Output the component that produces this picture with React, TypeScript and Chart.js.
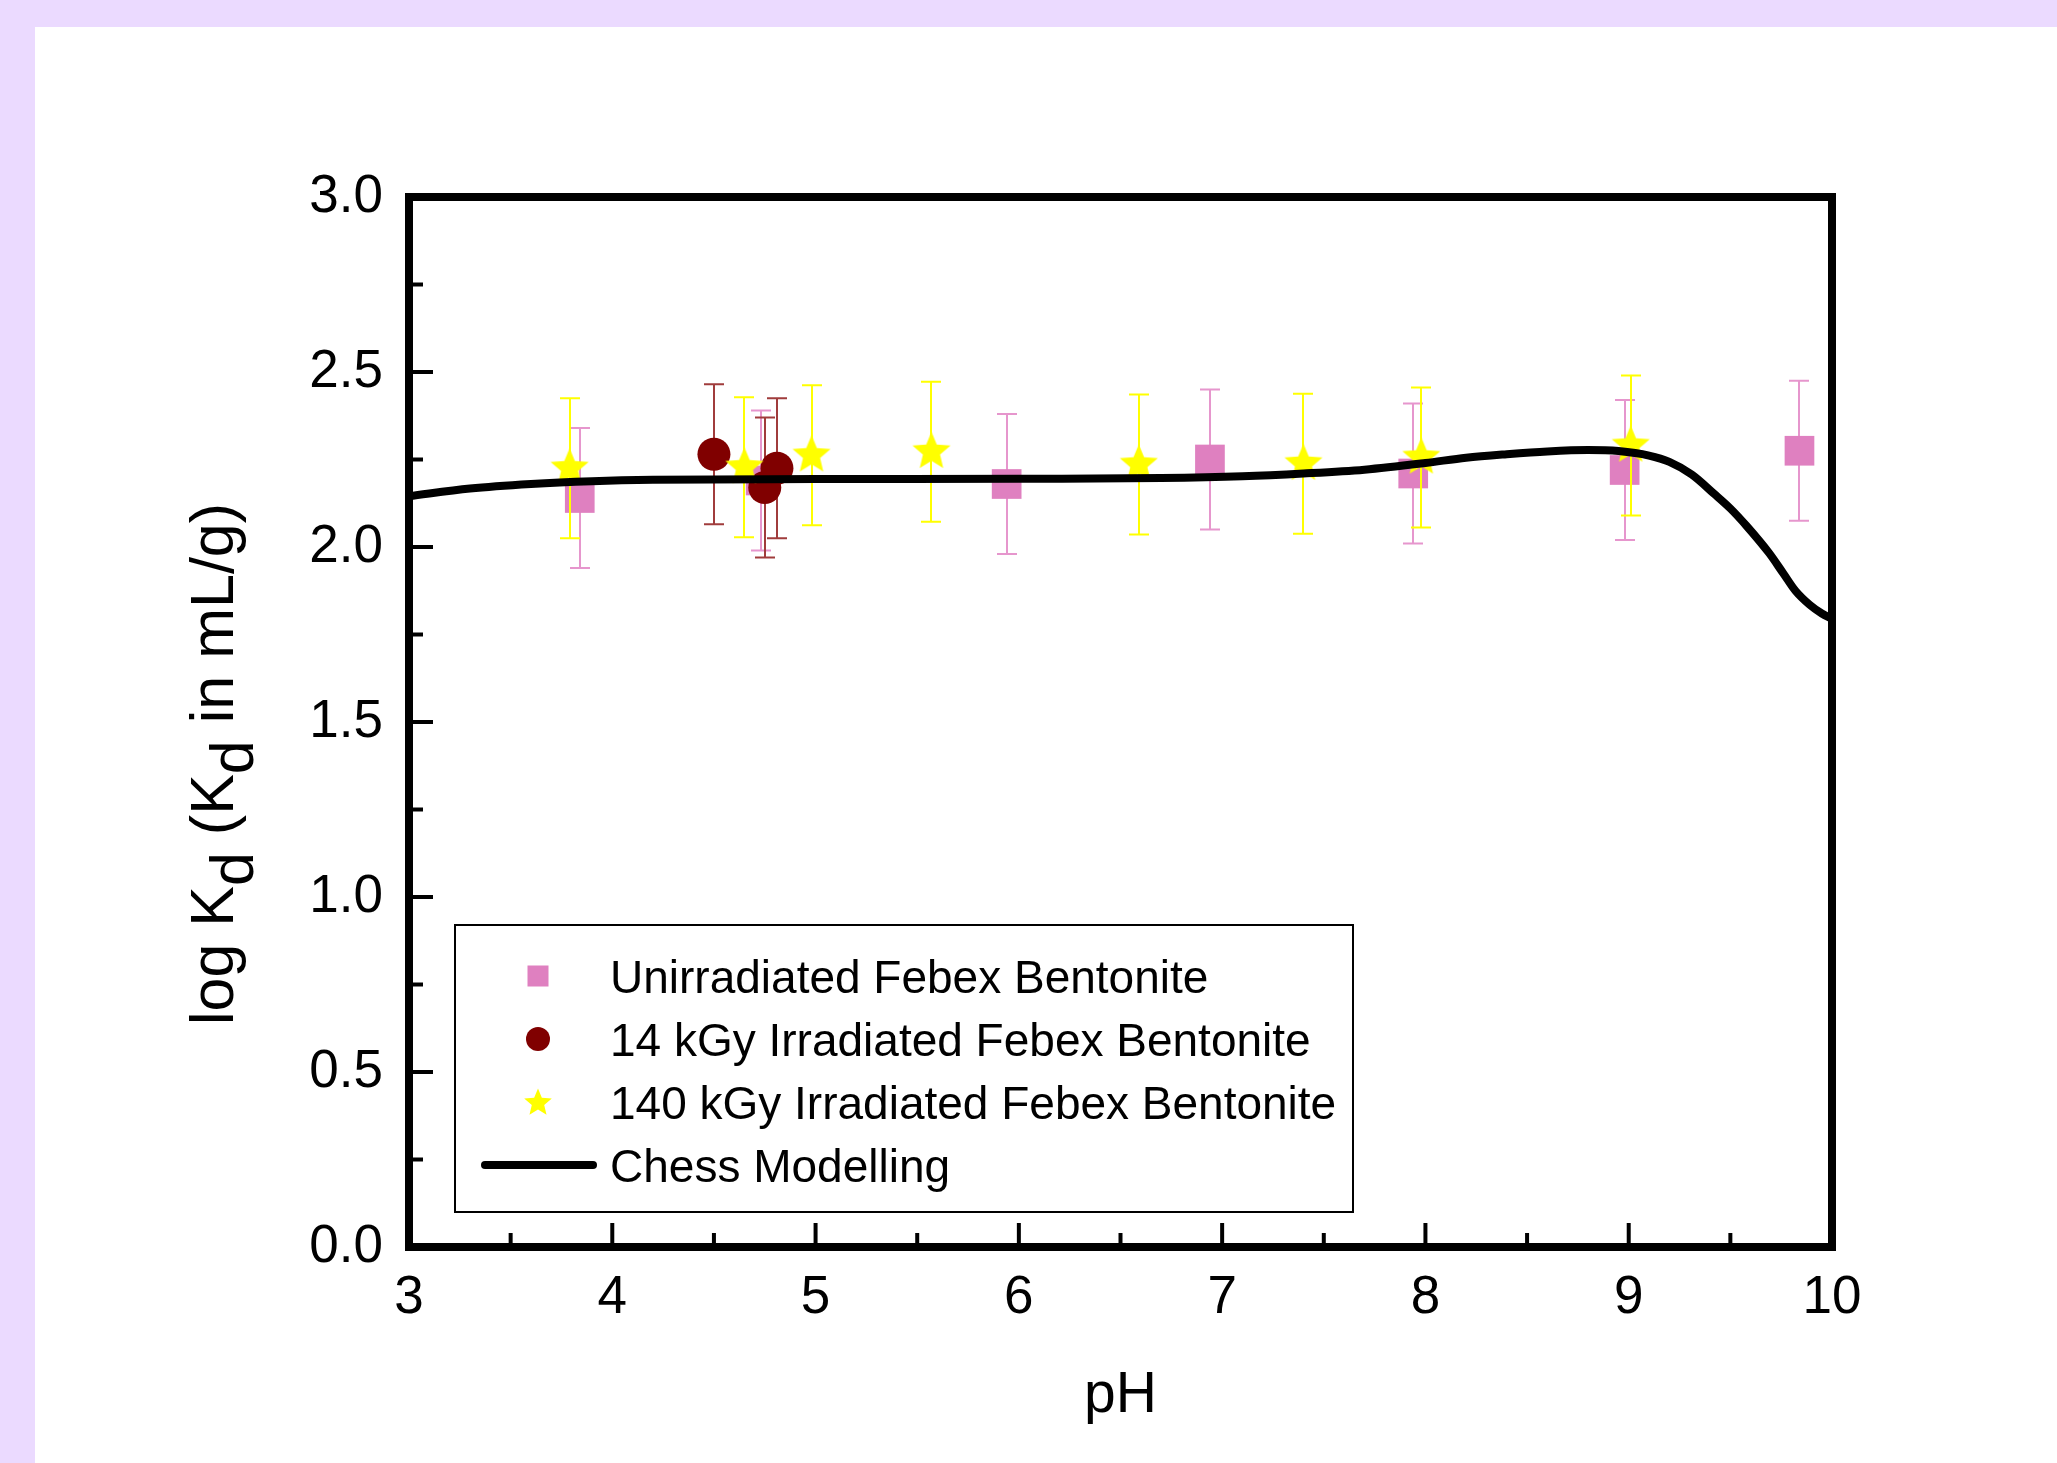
import React, { useEffect, useRef } from "react";
import { Chart, registerables } from "chart.js";

Chart.register(...registerables);

const W = 2057;
const H = 1463;
const FONT = '"Liberation Sans", Arial, Helvetica, sans-serif';

// ---- tick labels ----
const xTickValues = [3, 4, 5, 6, 7, 8, 9, 10];
const yTickValues = [0, 0.5, 1.0, 1.5, 2.0, 2.5, 3.0];
const xMinorValues = [3.5, 4.5, 5.5, 6.5, 7.5, 8.5, 9.5];
const yMinorValues = [0.25, 0.75, 1.25, 1.75, 2.25, 2.75];

const xTitle = "pH";
// y title segments: [text, isSubscript]
const yTitleParts: [string, boolean][] = [
  ["log K", false],
  ["d", true],
  [" (K", false],
  ["d", true],
  [" in mL/g)", false],
];

const seriesNames = [
  "Unirradiated Febex Bentonite",
  "14 kGy Irradiated Febex Bentonite",
  "140 kGy Irradiated Febex Bentonite",
  "Chess Modelling",
];

// ---- data ----
const unirrPH = [3.84, 4.73, 5.94, 6.94, 7.94, 8.98, 9.84];
const unirrLogKd = [2.14, 2.19, 2.18, 2.25, 2.21, 2.22, 2.275];
const unirrErr = [0.2, 0.2, 0.2, 0.2, 0.2, 0.2, 0.2];

const irr14PH = [4.5, 4.75, 4.81];
const irr14LogKd = [2.265, 2.17, 2.225];
const irr14Err = [0.2, 0.2, 0.2];

const irr140PH = [3.79, 4.65, 4.98, 5.57, 6.59, 7.4, 7.98, 9.01];
const irr140LogKd = [2.225, 2.228, 2.262, 2.272, 2.236, 2.238, 2.256, 2.29];
const irr140Err = [0.2, 0.2, 0.2, 0.2, 0.2, 0.2, 0.2, 0.2];

const chessPH = [3.0, 3.3, 3.6, 3.9, 4.2, 5.0, 6.0, 6.7, 7.1, 7.4, 7.7, 8.0, 8.2, 8.4, 8.6, 8.8, 8.95, 9.1, 9.2, 9.31, 9.42, 9.5, 9.58, 9.69, 9.76, 9.82, 9.89, 9.95, 10.0];
const chessLogKd = [2.145, 2.167, 2.18, 2.188, 2.192, 2.194, 2.195, 2.197, 2.202, 2.21, 2.221, 2.24, 2.255, 2.265, 2.273, 2.277, 2.274, 2.261, 2.243, 2.207, 2.152, 2.11, 2.06, 1.983, 1.925, 1.875, 1.835, 1.81, 1.795];

const PINK = "rgb(223,128,192)";
const PINK_ERR = "rgb(230,150,205)";
const DARKRED = "#800000";
const DARKRED_ERR = "rgb(160,60,60)";
const YELLOW = "#FFFF00";

function starPath(ctx: CanvasRenderingContext2D, cx: number, cy: number, R: number) {
  const r = R * 0.45;
  ctx.beginPath();
  for (let i = 0; i < 10; i++) {
    const rad = i % 2 === 0 ? R : r;
    const a = -Math.PI / 2 + (i * Math.PI) / 5;
    const px = cx + rad * Math.cos(a);
    const py = cy + rad * Math.sin(a);
    if (i === 0) ctx.moveTo(px, py);
    else ctx.lineTo(px, py);
  }
  ctx.closePath();
}

function makeStar(R: number): HTMLCanvasElement {
  const c = document.createElement("canvas");
  const s = Math.ceil(2 * R + 4);
  c.width = s;
  c.height = s;
  const ctx = c.getContext("2d")!;
  ctx.fillStyle = YELLOW;
  starPath(ctx, s / 2, s / 2, R);
  ctx.fill();
  return c;
}

const toPts = (xs: number[], ys: number[]) => xs.map((x, i) => ({ x, y: ys[i] }));

const decorPlugin = {
  id: "decor",
  beforeDatasetDraw(chart: any, args: any) {
    const ds = chart.data.datasets[args.index];
    if (!ds.errors) return;
    const { ctx, scales } = chart;
    const x = scales.x;
    const y = scales.y;
    ctx.save();
    ctx.strokeStyle = ds.errColor;
    ctx.lineWidth = 2;
    ds.data.forEach((p: any, i: number) => {
      const px = Math.round(x.getPixelForValue(p.x));
      const yt = y.getPixelForValue(p.y + ds.errors[i]);
      const yb = y.getPixelForValue(p.y - ds.errors[i]);
      ctx.beginPath();
      ctx.moveTo(px, yt);
      ctx.lineTo(px, yb);
      ctx.moveTo(px - 10, yt);
      ctx.lineTo(px + 10, yt);
      ctx.moveTo(px - 10, yb);
      ctx.lineTo(px + 10, yb);
      ctx.stroke();
    });
    ctx.restore();
  },
  afterDraw(chart: any) {
    const { ctx, chartArea: ca, scales } = chart;
    const x = scales.x;
    const y = scales.y;
    ctx.save();
    // inward ticks
    ctx.strokeStyle = "#000";
    ctx.lineWidth = 4;
    ctx.lineCap = "butt";
    const tick = (vals: number[], len: number) => {
      vals.forEach((v) => {
        const px = x.getPixelForValue(v);
        ctx.beginPath();
        ctx.moveTo(px, ca.bottom);
        ctx.lineTo(px, ca.bottom - len);
        ctx.stroke();
      });
    };
    const ytick = (vals: number[], len: number) => {
      vals.forEach((v) => {
        const py = y.getPixelForValue(v);
        ctx.beginPath();
        ctx.moveTo(ca.left, py);
        ctx.lineTo(ca.left + len, py);
        ctx.stroke();
      });
    };
    tick(xTickValues.slice(1, -1), 24);
    tick(xMinorValues, 14);
    ytick(yTickValues.slice(1, -1), 24);
    ytick(yMinorValues, 14);

    // frame
    ctx.lineWidth = 8;
    ctx.lineJoin = "miter";
    ctx.strokeRect(ca.left, ca.top, ca.right - ca.left, ca.bottom - ca.top);

    // axis titles
    ctx.fillStyle = "#000";
    ctx.font = `57px ${FONT}`;
    ctx.textAlign = "center";
    ctx.textBaseline = "alphabetic";
    ctx.fillText(xTitle, (ca.left + ca.right) / 2, 1412);

    ctx.save();
    ctx.font = `61px ${FONT}`;
    ctx.translate(233, 764);
    ctx.rotate(-Math.PI / 2);
    ctx.textAlign = "left";
    const widths = yTitleParts.map(([t]) => ctx.measureText(t).width);
    const total = widths.reduce((a, b) => a + b, 0);
    let cx = -total / 2;
    yTitleParts.forEach(([t, sub], i) => {
      ctx.fillText(t, cx, sub ? 20 : 0);
      cx += widths[i];
    });
    ctx.restore();

    // legend
    const lx = 455, ly = 925, lw = 898, lh = 287;
    ctx.lineWidth = 2;
    ctx.strokeStyle = "#000";
    ctx.strokeRect(lx, ly, lw, lh);
    ctx.font = `46px ${FONT}`;
    ctx.textAlign = "left";
    ctx.textBaseline = "alphabetic";
    const rowBase = [993, 1056, 1119, 1182];
    const rowMid = [976, 1039, 1102, 1165];
    const symX = 538;
    seriesNames.forEach((name, i) => {
      ctx.fillStyle = "#000";
      ctx.fillText(name, 610, rowBase[i]);
    });
    ctx.fillStyle = PINK;
    ctx.fillRect(symX - 10.5, rowMid[0] - 10.5, 21, 21);
    ctx.fillStyle = DARKRED;
    ctx.beginPath();
    ctx.arc(symX, rowMid[1], 12, 0, Math.PI * 2);
    ctx.fill();
    ctx.fillStyle = YELLOW;
    starPath(ctx, symX, rowMid[2] + 1, 14.5);
    ctx.fill();
    ctx.strokeStyle = "#000";
    ctx.lineWidth = 8;
    ctx.lineCap = "round";
    ctx.beginPath();
    ctx.moveTo(485, rowMid[3]);
    ctx.lineTo(593, rowMid[3]);
    ctx.stroke();
    ctx.restore();
  },
};

export default function App() {
  const ref = useRef<HTMLCanvasElement | null>(null);

  useEffect(() => {
    if (!ref.current) return;
    const starImg = makeStar(20);
    const chart = new Chart(ref.current, {
      type: "scatter",
      data: {
        datasets: [
          {
            type: "line",
            label: seriesNames[3],
            data: toPts(chessPH, chessLogKd),
            showLine: true,
            borderColor: "#000",
            borderWidth: 8,
            pointRadius: 0,
            cubicInterpolationMode: "monotone",
            borderJoinStyle: "round",
            fill: false,
            order: 0,
          } as any,
          {
            label: seriesNames[2],
            data: toPts(irr140PH, irr140LogKd),
            pointStyle: starImg,
            pointRadius: 20,
            backgroundColor: YELLOW,
            borderWidth: 0,
            errors: irr140Err,
            errColor: YELLOW,
            order: 1,
          } as any,
          {
            label: seriesNames[1],
            data: toPts(irr14PH, irr14LogKd),
            pointStyle: "circle",
            pointRadius: 16.5,
            backgroundColor: DARKRED,
            borderWidth: 0,
            errors: irr14Err,
            errColor: DARKRED_ERR,
            order: 2,
          } as any,
          {
            label: seriesNames[0],
            data: toPts(unirrPH, unirrLogKd),
            pointStyle: "rect",
            pointRadius: 21,
            backgroundColor: PINK,
            borderWidth: 0,
            errors: unirrErr,
            errColor: PINK_ERR,
            order: 3,
          } as any,
        ],
      },
      options: {
        animation: false,
        responsive: false,
        events: [],
        layout: { padding: { left: 0, top: 197, right: 225, bottom: 0 } },
        plugins: {
          legend: { display: false },
          tooltip: { enabled: false },
          title: { display: false },
        },
        scales: {
          x: {
            type: "linear",
            min: 3,
            max: 10,
            afterBuildTicks: (s: any) => {
              s.ticks = xTickValues.map((v) => ({ value: v }));
            },
            afterFit: (s: any) => {
              s.height = 216;
            },
            grid: { display: false, drawTicks: false },
            border: { display: false },
            ticks: {
              color: "#000",
              font: { family: FONT, size: 53 },
              padding: 20,
              maxRotation: 0,
              autoSkip: false,
              callback: (v: any) => String(v),
            },
          },
          y: {
            type: "linear",
            min: 0,
            max: 3,
            afterBuildTicks: (s: any) => {
              s.ticks = yTickValues.map((v) => ({ value: v }));
            },
            afterFit: (s: any) => {
              s.width = 409;
            },
            grid: { display: false, drawTicks: false },
            border: { display: false },
            ticks: {
              color: "#000",
              font: { family: FONT, size: 53 },
              padding: 26,
              autoSkip: false,
              callback: (v: any) => Number(v).toFixed(1),
            },
          },
        },
      } as any,
      plugins: [decorPlugin as any],
    });
    return () => chart.destroy();
  }, []);

  return (
    <div
      style={{
        position: "absolute",
        left: 0,
        top: 0,
        width: W,
        height: H,
        background: "rgb(235,218,255)",
        overflow: "hidden",
      }}
    >
      <div
        style={{
          position: "absolute",
          left: 35,
          top: 27,
          right: 0,
          bottom: 0,
          background: "#ffffff",
        }}
      />
      <canvas
        ref={ref}
        width={W}
        height={H}
        style={{ position: "absolute", left: 0, top: 0, width: W, height: H }}
      />
    </div>
  );
}
